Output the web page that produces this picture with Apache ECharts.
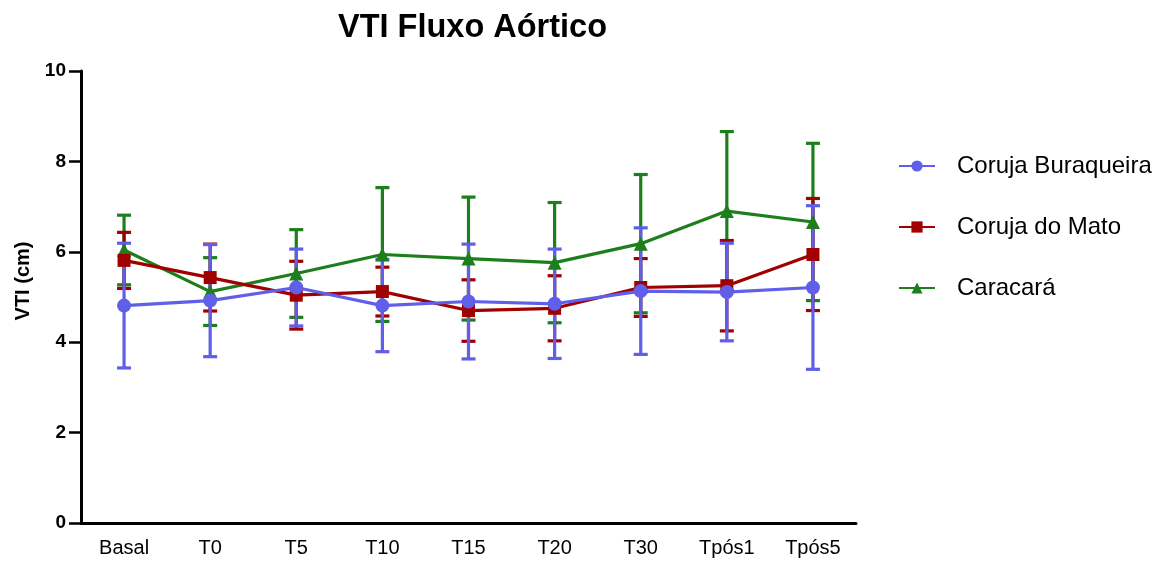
<!DOCTYPE html>
<html>
<head>
<meta charset="utf-8">
<title>VTI Fluxo Aórtico</title>
<script src="https://cdn.jsdelivr.net/npm/echarts@6/dist/echarts.min.js"></script>
<style>
  html, body { margin: 0; padding: 0; background: #fff; }
  #chart { width: 1167px; height: 562px; }
</style>
</head>
<body>
<div id="chart"></div>
<script>
// tempos de coleta
const categories = ['Basal', 'T0', 'T5', 'T10', 'T15', 'T20', 'T30', 'Tpós1', 'Tpós5'];

// médias e desvios (cm)
const buraqueiraMean = [4.81, 4.92, 5.21, 4.81, 4.90, 4.85, 5.13, 5.11, 5.21];
const buraqueiraSd   = [1.38, 1.24, 0.85, 1.02, 1.27, 1.21, 1.40, 1.08, 1.81];

const matoMean = [5.81, 5.43, 5.04, 5.12, 4.70, 4.75, 5.21, 5.25, 5.94];
const matoSd   = [0.62, 0.74, 0.75, 0.54, 0.68, 0.72, 0.64, 1.00, 1.24];

const caracaraMean = [6.04, 5.12, 5.52, 5.94, 5.85, 5.76, 6.18, 6.90, 6.66];
const caracaraSd   = [0.77, 0.75, 0.97, 1.48, 1.36, 1.33, 1.53, 1.76, 1.74];

const FONT = '"Liberation Sans", Arial, sans-serif';

const groups = [
  { name: 'Caracará', mean: caracaraMean, sd: caracaraSd, color: '#1C7F1C', symbol: 'triangle', size: 14 },
  { name: 'Coruja do Mato', mean: matoMean, sd: matoSd, color: '#A00000', symbol: 'rect', size: 13 },
  { name: 'Coruja Buraqueira', mean: buraqueiraMean, sd: buraqueiraSd, color: '#5F5FEA', symbol: 'circle', size: 14 }
];

function errorBars(color) {
  return function (params, api) {
    const lo = api.coord([api.value(0), api.value(1)]);
    const hi = api.coord([api.value(0), api.value(2)]);
    const half = 7;
    const style = { stroke: color, lineWidth: 3.2 };
    return {
      type: 'group',
      children: [
        { type: 'line', shape: { x1: lo[0], y1: lo[1], x2: hi[0], y2: hi[1] }, style },
        { type: 'line', shape: { x1: hi[0] - half, y1: hi[1], x2: hi[0] + half, y2: hi[1] }, style },
        { type: 'line', shape: { x1: lo[0] - half, y1: lo[1], x2: lo[0] + half, y2: lo[1] }, style }
      ]
    };
  };
}

const series = [];
groups.forEach(g => {
  series.push({
    name: g.name + ' (DP)',
    type: 'custom',
    renderItem: errorBars(g.color),
    data: g.mean.map((m, i) => [i, m - g.sd[i], m + g.sd[i]]),
    silent: true
  });
  series.push({
    name: g.name,
    type: 'line',
    data: g.mean,
    symbol: g.symbol,
    symbolSize: g.size,
    itemStyle: { color: g.color },
    lineStyle: { color: g.color, width: 3.2 }
  });
});

const chart = echarts.init(document.getElementById('chart'));
chart.setOption({
  animation: false,
  title: {
    text: 'VTI Fluxo Aórtico',
    left: 333,
    top: 7,
    textStyle: { fontFamily: FONT, fontSize: 32.5, fontWeight: 'bold', color: '#000' }
  },
  legend: {
    data: ['Coruja Buraqueira', 'Coruja do Mato', 'Caracará'],
    orient: 'vertical',
    left: 898,
    top: 154,
    padding: 0,
    itemWidth: 36,
    itemHeight: 14,
    itemGap: 37,
    textStyle: { fontFamily: FONT, fontSize: 24, color: '#000', padding: [0, 0, 0, 17] }
  },
  grid: { left: 81, right: 311, top: 71, bottom: 39 },
  xAxis: {
    type: 'category',
    data: categories,
    boundaryGap: true,
    axisLine: { lineStyle: { color: '#000', width: 3 } },
    axisTick: { alignWithLabel: true, length: 9, lineStyle: { color: '#000', width: 2.5 } },
    axisLabel: { fontFamily: FONT, fontSize: 20, color: '#000', margin: 15 }
  },
  yAxis: {
    type: 'value',
    min: 0,
    max: 10,
    interval: 2,
    name: 'VTI (cm)',
    nameLocation: 'middle',
    nameGap: 48,
    nameTextStyle: { fontFamily: FONT, fontSize: 20, fontWeight: 'bold', color: '#000', padding: [0, 0, 0, 32] },
    axisLine: { show: true, lineStyle: { color: '#000', width: 3 } },
    axisTick: { show: true, length: 12, lineStyle: { color: '#000', width: 2.5 } },
    axisLabel: { fontFamily: FONT, fontSize: 19, fontWeight: 'bold', color: '#000', margin: 15 },
    splitLine: { show: false }
  },
  series: series
});
</script>
</body>
</html>
